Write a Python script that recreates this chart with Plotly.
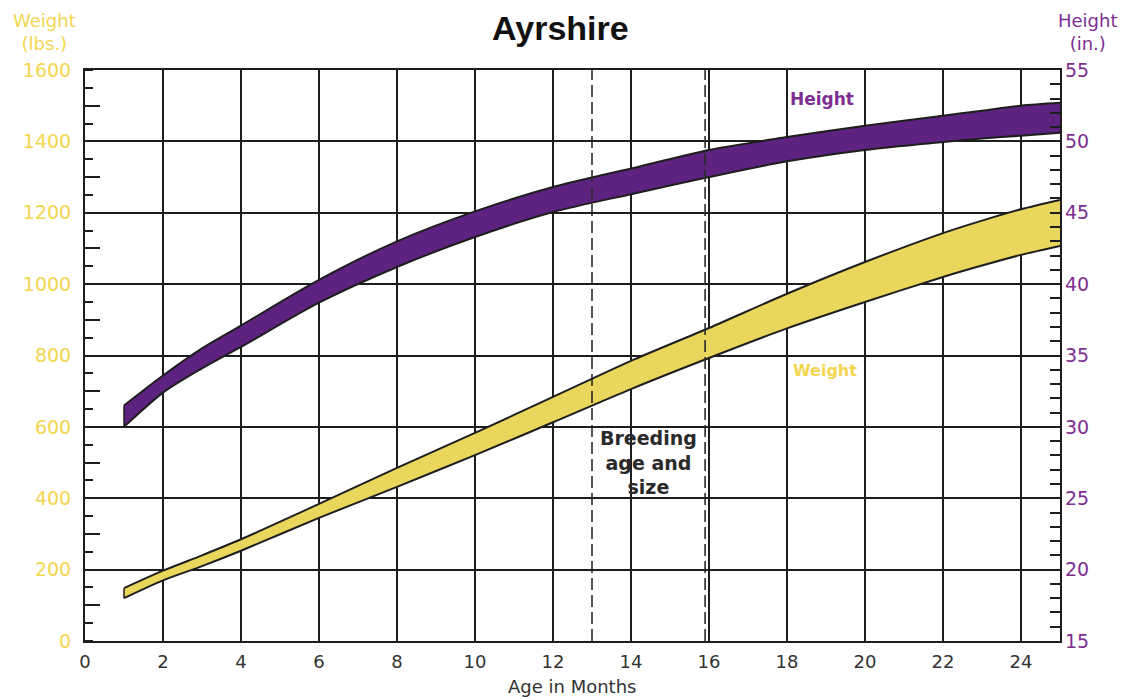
import plotly.graph_objects as go

# ---- data ----
months = [1, 2, 3, 4, 6, 8, 10, 12, 14, 16, 18, 20, 22, 23, 24, 25]
weight_upper = [148, 197, 240, 285, 384, 485, 583, 684, 785, 877, 973, 1062, 1143, 1178, 1210, 1236]
weight_lower = [120, 170, 210, 253, 345, 432, 521, 613, 706, 793, 876, 950, 1020, 1052, 1082, 1107]
height_upper = [31.5, 33.6, 35.5, 37.1, 40.3, 43.0, 45.1, 46.8, 48.1, 49.4, 50.3, 51.1, 51.8, 52.15, 52.5, 52.7]
height_lower = [30.0, 32.4, 34.1, 35.6, 38.7, 41.2, 43.3, 45.05, 46.3, 47.5, 48.6, 49.4, 49.95, 50.2, 50.4, 50.6]
breeding_months = [13, 15.9]
x_ticks = list(range(0, 25, 2))
weight_ticks = list(range(0, 1601, 200))
height_ticks = list(range(15, 56, 5))

FONT = "DejaVu Sans, Verdana, sans-serif"
TITLE_FONT = "Liberation Sans, Arial, Helvetica, sans-serif"
YELLOW_TXT = "#F4D54E"
YELLOW_FILL = "#E9D65C"
PURPLE_FILL = "#5E2380"
PURPLE_TXT = "#7E2E91"
INK = "#1e1e1e"

fig = go.Figure()

line_style = dict(color=INK, width=2, shape="spline", smoothing=0.8)

# Weight band
fig.add_trace(go.Scatter(x=months, y=weight_lower, mode="lines", line=line_style,
                         showlegend=False, hoverinfo="skip"))
fig.add_trace(go.Scatter(x=months, y=weight_upper, mode="lines", line=line_style,
                         fill="tonexty", fillcolor=YELLOW_FILL,
                         showlegend=False, hoverinfo="skip"))
fig.add_trace(go.Scatter(x=[months[0], months[0]], y=[weight_lower[0], weight_upper[0]],
                         mode="lines", line=dict(color=INK, width=1.5),
                         showlegend=False, hoverinfo="skip"))

# Height band (right axis)
fig.add_trace(go.Scatter(x=months, y=height_lower, mode="lines", yaxis="y2", line=line_style,
                         showlegend=False, hoverinfo="skip"))
fig.add_trace(go.Scatter(x=months, y=height_upper, mode="lines", yaxis="y2", line=line_style,
                         fill="tonexty", fillcolor=PURPLE_FILL,
                         showlegend=False, hoverinfo="skip"))
fig.add_trace(go.Scatter(x=[months[0], months[0]], y=[height_lower[0], height_upper[0]],
                         mode="lines", yaxis="y2", line=dict(color=INK, width=1.5),
                         showlegend=False, hoverinfo="skip"))

# empty trace to activate the overlay tick axis (long ticks every 100 lbs)
fig.add_trace(go.Scatter(x=[], y=[], yaxis="y3", showlegend=False))

# Breeding age dashed lines
for m in breeding_months:
    fig.add_shape(type="line", x0=m, x1=m, y0=0, y1=1, xref="x", yref="paper",
                  line=dict(color="#2a2a2a", width=1.6, dash="12px,5px"))

# white mask hiding the x=14 gridline behind the "Breeding" caption
fig.add_shape(type="rect", x0=13.8, x1=14.2, y0=412, y1=588, xref="x", yref="y",
              fillcolor="white", line=dict(width=0), layer="below")

# Page offset: the browser puts the figure 8px from the page's top-left corner
OFF = 8
L, R, T, B = 85, 1060, 70, 641          # plot area in page pixels
W, H = R - L, B - T
FIG_W, FIG_H = 1128 - OFF, 700 - OFF


def px(x):
    return (x - L) / W


def py(y):
    return (B - y) / H


fig.update_layout(
    width=FIG_W, height=FIG_H,
    margin=dict(l=L - OFF, r=FIG_W - (R - OFF), t=T - OFF, b=FIG_H - (B - OFF),
                autoexpand=False),
    paper_bgcolor="white", plot_bgcolor="white",
    font=dict(family=FONT, size=18, color=INK),
    xaxis=dict(range=[0, 25], tickvals=x_ticks, showgrid=True, gridcolor=INK,
               gridwidth=1.6, showline=True, linecolor=INK, linewidth=2,
               mirror=True, ticks="", zeroline=False, automargin=False,
               ticklabelstandoff=3,
               tickfont=dict(size=18, color="#333")),
    yaxis=dict(range=[0, 1600], tickvals=weight_ticks, showgrid=True, gridcolor=INK,
               gridwidth=1.6, showline=True, linecolor=INK, linewidth=2,
               mirror=True, ticks="", zeroline=False, automargin=False,
               ticklabelstandoff=8,
               tickfont=dict(size=19, color=YELLOW_TXT),
               minor=dict(dtick=50, ticks="inside", ticklen=8, tickcolor=INK,
                          tickwidth=2, showgrid=False)),
    yaxis3=dict(range=[0, 1600], dtick=100, overlaying="y", side="left",
                showgrid=False, showticklabels=False, ticks="inside", ticklen=15,
                tickcolor=INK, tickwidth=2, zeroline=False, automargin=False),
    yaxis2=dict(range=[15, 55], tickvals=height_ticks, overlaying="y", side="right",
                showgrid=False, zeroline=False, ticks="inside", ticklen=10,
                tickcolor=INK, tickwidth=2, automargin=False,
                ticklabelstandoff=4,
                tickfont=dict(size=19, color=PURPLE_TXT),
                minor=dict(dtick=1, ticks="inside", ticklen=10, tickcolor=INK,
                           tickwidth=2)),
    annotations=[
        dict(text="<b>Ayrshire</b>", x=px(560), y=py(28), xref="paper", yref="paper",
             xanchor="center", yanchor="middle", showarrow=False, borderpad=0,
             font=dict(size=34, color="#111", family=TITLE_FONT)),
        dict(text="Weight<br>(lbs.)", x=px(44), y=py(32), xref="paper", yref="paper",
             xanchor="center", yanchor="middle", showarrow=False,
             font=dict(size=18, color=YELLOW_TXT), align="center"),
        dict(text="Height<br>(in.)", x=px(1088), y=py(32), xref="paper", yref="paper",
             xanchor="center", yanchor="middle", showarrow=False,
             font=dict(size=18, color=PURPLE_TXT), align="center"),
        dict(text="Age in Months", x=px(572), y=py(686), xref="paper", yref="paper",
             xanchor="center", yanchor="middle", showarrow=False,
             font=dict(size=18, color="#333")),
        dict(text="<b>Breeding<br>age and<br>size</b>", x=14.45, y=500, xref="x", yref="y",
             showarrow=False, font=dict(size=19, color="#2a2a2a"), align="center"),
        dict(text="<b>Height</b>", x=18.9, y=1519, xref="x", yref="y",
             showarrow=False, font=dict(size=17, color=PURPLE_TXT)),
        dict(text="<b>Weight</b>", x=18.97, y=757, xref="x", yref="y",
             showarrow=False, font=dict(size=16, color=YELLOW_TXT)),
    ],
)

fig.write_html("out.html")
